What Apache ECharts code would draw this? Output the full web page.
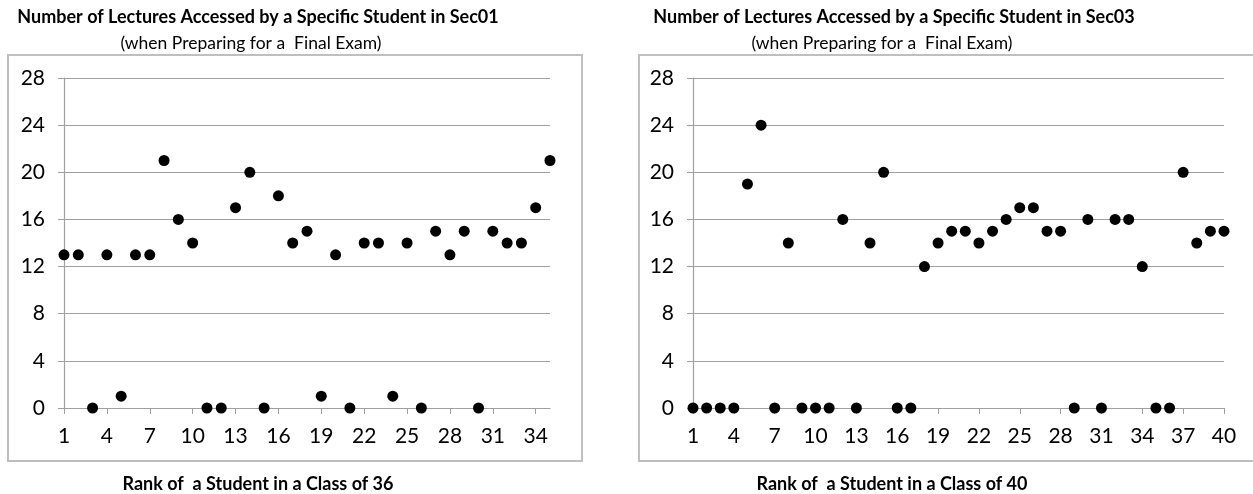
<!DOCTYPE html>
<html>
<head>
<meta charset="utf-8">
<script src="https://cdn.jsdelivr.net/npm/echarts@6/dist/echarts.min.js"></script>
<style>
html,body{margin:0;padding:0;background:#fff;}
#c{width:1253px;height:494px;}
</style>
</head>
<body>
<div id="c"></div>
<script>
// ---- data ----
const ranksSec01 = Array.from({length: 35}, (_, i) => String(i + 1));
const lecturesSec01 = [13, 13, 0, 13, 1, 13, 13, 21, 16, 14, 0, 0, 17, 20, 0, 18, 14, 15, 1, 13,
                       0, 14, 14, 1, 14, 0, 15, 13, 15, 0, 15, 14, 14, 17, 21];
const ranksSec03 = Array.from({length: 40}, (_, i) => String(i + 1));
const lecturesSec03 = [0, 0, 0, 0, 19, 24, 0, 14, 0, 0, 0, 16, 0, 14, 20, 0, 0, 12, 14, 15,
                       15, 14, 15, 16, 17, 17, 15, 15, 0, 16, 0, 16, 16, 12, 0, 0, 20, 14, 15, 15];
const yTicks = [0, 4, 8, 12, 16, 20, 24, 28];
const titleSec01 = 'Number of Lectures Accessed by a Specific Student in Sec01';
const titleSec03 = 'Number of Lectures Accessed by a Specific Student in Sec03';
const subTitle = '(when Preparing for a  Final Exam)';
const xNameSec01 = 'Rank of  a Student in a Class of 36';
const xNameSec03 = 'Rank of  a Student in a Class of 40';

const FONT = 'Lato';
const gridColor = '#a0a0a0';

function xAxis(gridIndex, cats) {
  return {
    type: 'category', gridIndex, data: cats, boundaryGap: false,
    axisLine: {show: true, lineStyle: {color: gridColor, width: 1.2}},
    axisTick: {show: true, interval: 2, length: 6, lineStyle: {color: gridColor}},
    axisLabel: {interval: 2, color: '#000', fontFamily: FONT, fontSize: 21, margin: 18},
    splitLine: {show: false}
  };
}
function yAxis(gridIndex) {
  return {
    type: 'value', gridIndex, min: yTicks[0], max: yTicks[yTicks.length - 1], interval: 4,
    axisLine: {show: true, lineStyle: {color: gridColor, width: 1.2}},
    axisTick: {show: true, length: 6, lineStyle: {color: gridColor}},
    axisLabel: {color: '#000', fontFamily: FONT, fontSize: 21, margin: 19},
    splitLine: {show: true, lineStyle: {color: gridColor, width: 1.2}}
  };
}

const chart = echarts.init(document.getElementById('c'), null, {renderer: 'canvas'});
chart.setOption({
  animation: false,
  backgroundColor: '#fff',
  title: [
    {text: titleSec01, left: 253, top: 3, textAlign: 'center',
     textStyle: {fontFamily: FONT, fontWeight: 'bold', fontSize: 18, color: '#000'}},
    {text: subTitle, left: 246, top: 29, textAlign: 'center',
     textStyle: {fontFamily: FONT, fontWeight: 'normal', fontSize: 17.5, color: '#000'}},
    {text: xNameSec01, left: 253, top: 470, textAlign: 'center',
     textStyle: {fontFamily: FONT, fontWeight: 'bold', fontSize: 18, color: '#000'}},
    {text: titleSec03, left: 889, top: 3, textAlign: 'center',
     textStyle: {fontFamily: FONT, fontWeight: 'bold', fontSize: 18, color: '#000'}},
    {text: subTitle, left: 877, top: 29, textAlign: 'center',
     textStyle: {fontFamily: FONT, fontWeight: 'normal', fontSize: 17.5, color: '#000'}},
    {text: xNameSec03, left: 887, top: 470, textAlign: 'center',
     textStyle: {fontFamily: FONT, fontWeight: 'bold', fontSize: 18, color: '#000'}}
  ],
  graphic: [
    {type: 'rect', shape: {x: 8, y: 55, width: 574, height: 406}, z: -1,
     style: {fill: 'none', stroke: '#bfbfbf', lineWidth: 2}},
    {type: 'rect', shape: {x: 639, y: 55, width: 620, height: 406}, z: -1,
     style: {fill: 'none', stroke: '#bfbfbf', lineWidth: 2}}
  ],
  grid: [
    {left: 64, top: 78, width: 486, height: 330},
    {left: 693, top: 78, width: 531, height: 330}
  ],
  xAxis: [xAxis(0, ranksSec01), xAxis(1, ranksSec03)],
  yAxis: [yAxis(0), yAxis(1)],
  series: [
    {type: 'scatter', xAxisIndex: 0, yAxisIndex: 0, data: lecturesSec01,
     symbol: 'circle', symbolSize: 11, itemStyle: {color: '#000', opacity: 1}, clip: false},
    {type: 'scatter', xAxisIndex: 1, yAxisIndex: 1, data: lecturesSec03,
     symbol: 'circle', symbolSize: 11, itemStyle: {color: '#000', opacity: 1}, clip: false}
  ]
});
</script>
</body>
</html>
